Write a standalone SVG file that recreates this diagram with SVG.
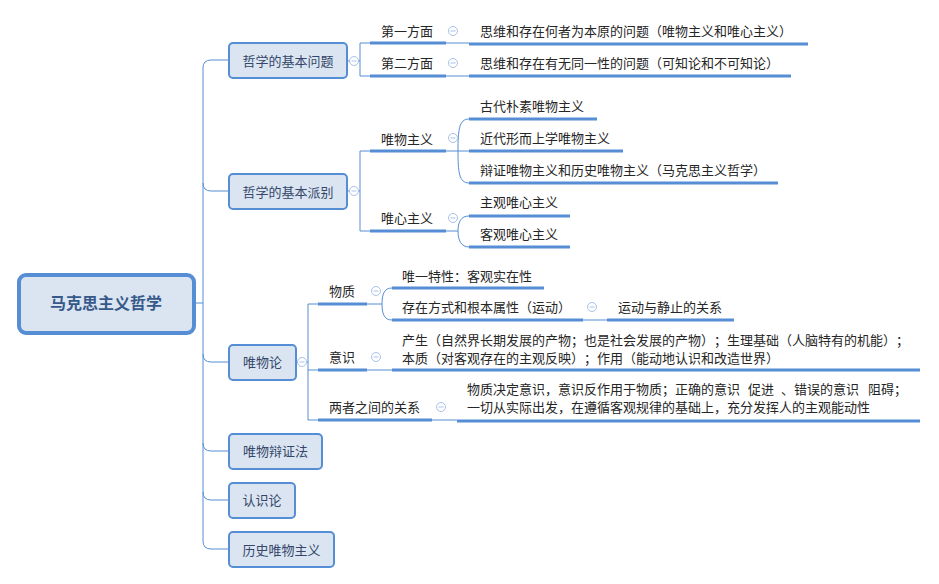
<svg xmlns="http://www.w3.org/2000/svg" width="939" height="584" viewBox="0 0 939 584">
<style>
text{font-family:"Microsoft YaHei","Noto Sans CJK SC",sans-serif;font-size:13px;fill:#262626;text-spacing-trim:space-all}
.t1{fill:#34476a;text-anchor:middle}
.root{fill:#36598a;font-size:16px;font-weight:bold;text-anchor:middle}
.b1{fill:#dbe5f1;stroke:#558ed5;stroke-width:2}
.rb{fill:#dbe5f1;stroke:#558ed5;stroke-width:4}
.c{fill:none;stroke:#558ed5;stroke-width:1}
.u{fill:none;stroke:#558ed5;stroke-width:3}
.ic circle{fill:#fff;stroke:#a9c1e8;stroke-width:1}
.ic path{stroke:#a9c1e8;stroke-width:1}
</style>
<defs>
<g id="minus" class="ic"><circle cx="0" cy="0" r="4.5"/><path d="M-2.5,0H2.5"/></g>
</defs>
<rect width="939" height="584" fill="#fff"/>
<g id="connectors">
<path class="c" d="M195,303H203M228,60H211Q203,60 203,68V541Q203,549 211,549H228"/>
<path class="c" d="M203,183Q203,191 211,191H228M203,354Q203,362 211,362H228M203,443Q203,451 211,451H228M203,492Q203,500 211,500H228"/>
<path class="c" d="M347,61H360M360,43V76M360,43H370M360,76H370M446,43H469M446,76H469"/>
<path class="c" d="M347,191H360M360,151V231M360,151H370M360,231H370"/>
<path class="c" d="M446,151H469M469,119C459,119 458,130 458,151C458,172 459,183 469,183"/>
<path class="c" d="M446,231H458M469,216C461,216 458,222 458,231C458,240 461,247 469,247"/>
<path class="c" d="M296,362H308M308,304V420M308,304H318M308,370H318M308,420H318"/>
<path class="c" d="M367,304H382M392,288C385,288 382,293 382,304C382,315 385,320 392,320"/>
<path class="c" d="M583,320H607M367,370H392M432,420H457"/>
<path class="u" d="M370,43H446M469,44H808M370,76H446M469,76H791"/>
<path class="u" d="M370,151H446M370,231H446M469,119H597M469,151H623M469,183H778M469,216H570M469,247H570"/>
<path class="u" d="M318,304H367M318,370H367M318,420H432M392,288H544M392,320H583M607,320H734M392,370H920M457,421H920"/>
</g>
<g id="root"><rect class="rb" x="19" y="275" width="175" height="58" rx="7"/><text class="root" x="106" y="309">马克思主义哲学</text></g>
<g id="n-wenti"><rect class="b1" x="229" y="43" width="118" height="35" rx="4"/><text class="t1" x="288" y="66">哲学的基本问题</text><use href="#minus" x="354" y="61"/></g>
<g id="n-paibie"><rect class="b1" x="229" y="174" width="118" height="35" rx="4"/><text class="t1" x="288" y="197">哲学的基本派别</text><use href="#minus" x="354" y="191"/></g>
<g id="n-weiwulun"><rect class="b1" x="229" y="345" width="67" height="35" rx="4"/><text class="t1" x="262.5" y="367">唯物论</text><use href="#minus" x="302" y="362"/></g>
<g id="n-bianzheng"><rect class="b1" x="229" y="434" width="93" height="35" rx="4"/><text class="t1" x="275.5" y="456">唯物辩证法</text></g>
<g id="n-renshi"><rect class="b1" x="229" y="483" width="66" height="35" rx="4"/><text class="t1" x="262" y="505">认识论</text></g>
<g id="n-lishi"><rect class="b1" x="229" y="532" width="105" height="35" rx="4"/><text class="t1" x="281.5" y="555">历史唯物主义</text></g>
<g id="n-diyi"><text x="381" y="36">第一方面</text><use href="#minus" x="453" y="31"/></g>
<g id="n-dier"><text x="381" y="68">第二方面</text><use href="#minus" x="453" y="63"/></g>
<g id="n-q1"><text x="480" y="36">思维和存在何者为本原的问题（唯物主义和唯心主义）</text></g>
<g id="n-q2"><text x="480" y="68">思维和存在有无同一性的问题（可知论和不可知论）</text></g>
<g id="n-weiwu"><text x="381" y="144">唯物主义</text><use href="#minus" x="453" y="138"/></g>
<g id="n-weixin"><text x="381" y="223">唯心主义</text><use href="#minus" x="453" y="218"/></g>
<g id="n-gudai"><text x="480" y="111">古代朴素唯物主义</text></g>
<g id="n-jindai"><text x="480" y="143">近代形而上学唯物主义</text></g>
<g id="n-bianzhengww"><text x="480" y="175">辩证唯物主义和历史唯物主义（马克思主义哲学）</text></g>
<g id="n-zhuguan"><text x="480" y="207">主观唯心主义</text></g>
<g id="n-keguan"><text x="480" y="239">客观唯心主义</text></g>
<g id="n-wuzhi"><text x="329" y="296">物质</text><use href="#minus" x="376" y="291"/></g>
<g id="n-yishi"><text x="329" y="362">意识</text><use href="#minus" x="376" y="357"/></g>
<g id="n-liangzhe"><text x="329" y="412">两者之间的关系</text><use href="#minus" x="441" y="407"/></g>
<g id="n-weiyi"><text x="402" y="281">唯一特性：客观实在性</text></g>
<g id="n-cunzai"><text x="402" y="312">存在方式和根本属性（运动）</text><use href="#minus" x="592" y="307"/></g>
<g id="n-yundong"><text x="618" y="312">运动与静止的关系</text></g>
<g id="n-yishi-c"><text x="402" y="344.5">产生（自然界长期发展的产物；也是社会发展的产物）；生理基础（人脑特有的机能）；</text><text x="402" y="362.5">本质（对客观存在的主观反映）；作用（能动地认识和改造世界）</text></g>
<g id="n-guanxi"><text x="467" y="394">物质决定意识，意识反作用于物质；正确的意识 <tspan x="748">促进 </tspan><tspan x="781">、错误的意识 </tspan><tspan x="868">阻碍；</tspan></text><text x="467" y="412">一切从实际出发，在遵循客观规律的基础上，充分发挥人的主观能动性</text></g>
</svg>
